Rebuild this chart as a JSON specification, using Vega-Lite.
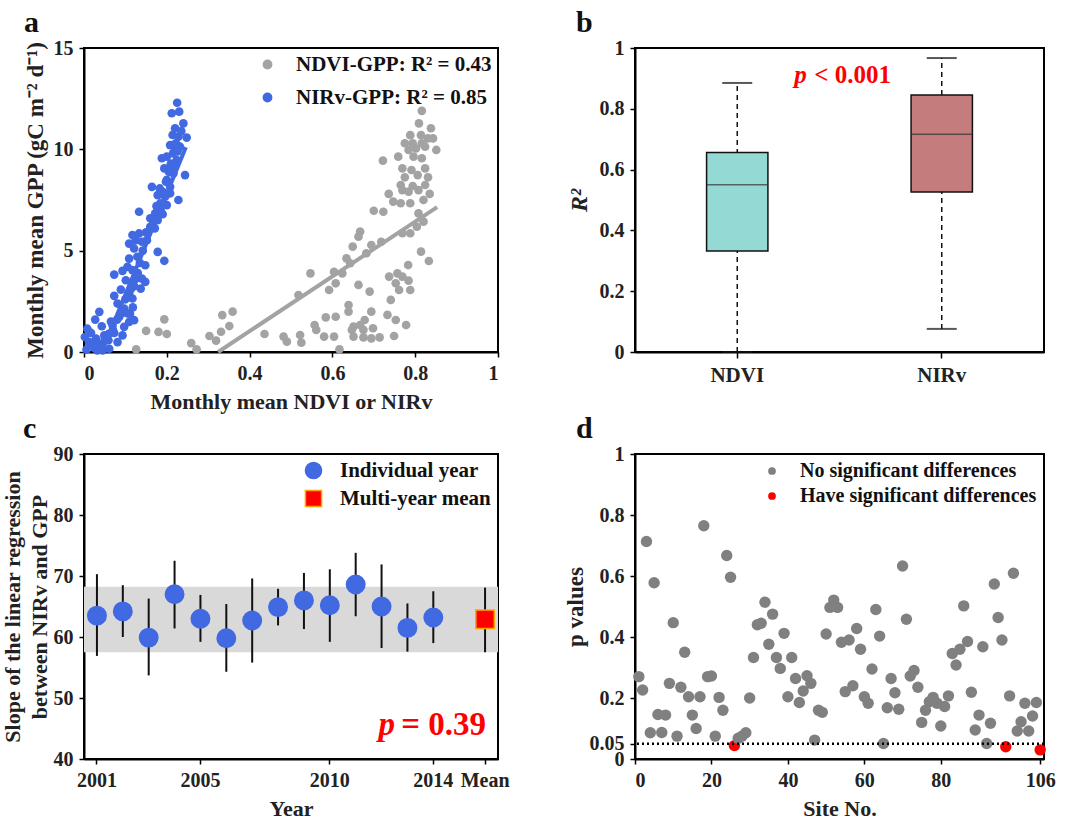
{
"$schema": "https://vega.github.io/schema/vega-lite/v6.json",
"background": "white",
"padding": {"left": 0, "top": 7, "right": 5, "bottom": 5},
"config": {
 "font": "Liberation Serif",
 "view": {"stroke": "#000", "strokeWidth": 2},
 "axis": {"grid": false, "labelFont": "Liberation Serif", "labelFontSize": 20, "labelFontWeight": "bold", "labelColor": "#222", "titleFont": "Liberation Serif", "titleFontSize": 22, "titleFontWeight": "bold", "titleColor": "#222", "domainColor": "#000", "domainWidth": 2, "tickColor": "#000", "tickWidth": 1.5, "tickSize": 5, "labelPadding": 6, "titlePadding": 8, "labelOverlap": false, "labelBound": false},
 "legend": {"labelFont": "Liberation Serif", "labelFontWeight": "bold", "labelColor": "#111", "padding": 0, "labelLimit": 400},
 "title": {"font": "Liberation Serif", "fontSize": 30, "fontWeight": "bold", "anchor": "start", "frame": "group", "color": "#111", "dy": 4}
},
"datasets": {
 "scatterA": [
  {"index":"NDVI","vi":0.126,"gpp":0.13},{"index":"NDVI","vi":0.150,"gpp":1.04},{"index":"NDVI","vi":0.180,"gpp":0.99},{"index":"NDVI","vi":0.194,"gpp":1.61},{"index":"NDVI","vi":0.200,"gpp":0.89},{"index":"NDVI","vi":0.259,"gpp":0.44},{"index":"NDVI","vi":0.272,"gpp":0.13},{"index":"NDVI","vi":0.303,"gpp":0.79},{"index":"NDVI","vi":0.319,"gpp":0.56},{"index":"NDVI","vi":0.331,"gpp":1.0},{"index":"NDVI","vi":0.334,"gpp":1.82},{"index":"NDVI","vi":0.351,"gpp":1.28},{"index":"NDVI","vi":0.359,"gpp":1.99},{"index":"NDVI","vi":0.436,"gpp":0.89},
  {"index":"NDVI","vi":0.816,"gpp":11.9},{"index":"NDVI","vi":0.809,"gpp":11.28},{"index":"NDVI","vi":0.838,"gpp":11.04},{"index":"NDVI","vi":0.788,"gpp":10.7},{"index":"NDVI","vi":0.814,"gpp":10.7},{"index":"NDVI","vi":0.831,"gpp":10.54},{"index":"NDVI","vi":0.775,"gpp":10.3},{"index":"NDVI","vi":0.794,"gpp":10.3},{"index":"NDVI","vi":0.816,"gpp":10.3},{"index":"NDVI","vi":0.843,"gpp":10.54},{"index":"NDVI","vi":0.784,"gpp":9.97},{"index":"NDVI","vi":0.802,"gpp":10.05},{"index":"NDVI","vi":0.824,"gpp":10.13},{"index":"NDVI","vi":0.851,"gpp":9.97},{"index":"NDVI","vi":0.759,"gpp":9.64},{"index":"NDVI","vi":0.796,"gpp":9.64},{"index":"NDVI","vi":0.722,"gpp":9.44},{"index":"NDVI","vi":0.816,"gpp":9.56},{"index":"NDVI","vi":0.769,"gpp":9.06},{"index":"NDVI","vi":0.791,"gpp":8.98},{"index":"NDVI","vi":0.824,"gpp":9.06},{"index":"NDVI","vi":0.775,"gpp":8.62},{"index":"NDVI","vi":0.806,"gpp":8.73},{"index":"NDVI","vi":0.831,"gpp":8.62},{"index":"NDVI","vi":0.765,"gpp":8.24},{"index":"NDVI","vi":0.794,"gpp":8.19},{"index":"NDVI","vi":0.824,"gpp":8.24},{"index":"NDVI","vi":0.769,"gpp":7.99},{"index":"NDVI","vi":0.784,"gpp":7.91},{"index":"NDVI","vi":0.808,"gpp":7.99},{"index":"NDVI","vi":0.835,"gpp":7.80},{"index":"NDVI","vi":0.736,"gpp":7.80},{"index":"NDVI","vi":0.747,"gpp":7.42},{"index":"NDVI","vi":0.765,"gpp":7.34},{"index":"NDVI","vi":0.788,"gpp":7.34},{"index":"NDVI","vi":0.820,"gpp":7.50},{"index":"NDVI","vi":0.700,"gpp":6.97},{"index":"NDVI","vi":0.723,"gpp":6.92},{"index":"NDVI","vi":0.808,"gpp":6.84},{"index":"NDVI","vi":0.820,"gpp":6.43},{"index":"NDVI","vi":0.804,"gpp":6.18},{"index":"NDVI","vi":0.788,"gpp":5.86},{"index":"NDVI","vi":0.769,"gpp":5.86},{"index":"NDVI","vi":0.667,"gpp":5.94},{"index":"NDVI","vi":0.663,"gpp":5.69},{"index":"NDVI","vi":0.694,"gpp":5.28},{"index":"NDVI","vi":0.718,"gpp":5.44},{"index":"NDVI","vi":0.649,"gpp":5.20},{"index":"NDVI","vi":0.634,"gpp":4.62},{"index":"NDVI","vi":0.643,"gpp":4.38},{"index":"NDVI","vi":0.682,"gpp":4.87},{"index":"NDVI","vi":0.814,"gpp":4.95},{"index":"NDVI","vi":0.833,"gpp":4.49},{"index":"NDVI","vi":0.783,"gpp":4.29},{"index":"NDVI","vi":0.757,"gpp":3.88},{"index":"NDVI","vi":0.737,"gpp":3.72},{"index":"NDVI","vi":0.769,"gpp":3.72},{"index":"NDVI","vi":0.784,"gpp":3.52},{"index":"NDVI","vi":0.753,"gpp":3.39},{"index":"NDVI","vi":0.761,"gpp":3.06},{"index":"NDVI","vi":0.788,"gpp":3.06},{"index":"NDVI","vi":0.741,"gpp":2.57},{"index":"NDVI","vi":0.690,"gpp":2.98},{"index":"NDVI","vi":0.663,"gpp":3.31},{"index":"NDVI","vi":0.624,"gpp":3.88},{"index":"NDVI","vi":0.604,"gpp":3.96},{"index":"NDVI","vi":0.592,"gpp":3.06},{"index":"NDVI","vi":0.608,"gpp":3.39},{"index":"NDVI","vi":0.547,"gpp":3.88},{"index":"NDVI","vi":0.518,"gpp":2.81},{"index":"NDVI","vi":0.639,"gpp":2.32},{"index":"NDVI","vi":0.639,"gpp":1.99},{"index":"NDVI","vi":0.608,"gpp":1.74},{"index":"NDVI","vi":0.584,"gpp":1.71},{"index":"NDVI","vi":0.694,"gpp":1.99},{"index":"NDVI","vi":0.733,"gpp":1.83},{"index":"NDVI","vi":0.753,"gpp":1.58},{"index":"NDVI","vi":0.778,"gpp":1.33},{"index":"NDVI","vi":0.678,"gpp":1.58},{"index":"NDVI","vi":0.667,"gpp":1.33},{"index":"NDVI","vi":0.651,"gpp":1.25},{"index":"NDVI","vi":0.647,"gpp":1.09},{"index":"NDVI","vi":0.675,"gpp":1.09},{"index":"NDVI","vi":0.698,"gpp":1.17},{"index":"NDVI","vi":0.557,"gpp":1.33},{"index":"NDVI","vi":0.561,"gpp":1.09},{"index":"NDVI","vi":0.580,"gpp":0.76},{"index":"NDVI","vi":0.604,"gpp":0.76},{"index":"NDVI","vi":0.651,"gpp":0.76},{"index":"NDVI","vi":0.675,"gpp":0.72},{"index":"NDVI","vi":0.694,"gpp":0.67},{"index":"NDVI","vi":0.714,"gpp":0.72},{"index":"NDVI","vi":0.749,"gpp":0.79},{"index":"NDVI","vi":0.522,"gpp":0.84},{"index":"NDVI","vi":0.482,"gpp":0.76},{"index":"NDVI","vi":0.490,"gpp":0.51},{"index":"NDVI","vi":0.525,"gpp":0.46},{"index":"NDVI","vi":0.617,"gpp":0.13},
  {"index":"NIRv","vi":0.225,"gpp":12.3},{"index":"NIRv","vi":0.212,"gpp":11.78},{"index":"NIRv","vi":0.230,"gpp":11.86},{"index":"NIRv","vi":0.240,"gpp":11.28},{"index":"NIRv","vi":0.220,"gpp":11.04},{"index":"NIRv","vi":0.214,"gpp":10.71},{"index":"NIRv","vi":0.248,"gpp":10.58},{"index":"NIRv","vi":0.228,"gpp":10.63},{"index":"NIRv","vi":0.208,"gpp":10.21},{"index":"NIRv","vi":0.232,"gpp":10.13},{"index":"NIRv","vi":0.220,"gpp":9.97},{"index":"NIRv","vi":0.188,"gpp":9.56},{"index":"NIRv","vi":0.200,"gpp":9.64},{"index":"NIRv","vi":0.224,"gpp":9.47},{"index":"NIRv","vi":0.208,"gpp":9.14},{"index":"NIRv","vi":0.244,"gpp":8.73},{"index":"NIRv","vi":0.194,"gpp":9.06},{"index":"NIRv","vi":0.216,"gpp":8.81},{"index":"NIRv","vi":0.164,"gpp":8.15},{"index":"NIRv","vi":0.183,"gpp":8.07},{"index":"NIRv","vi":0.208,"gpp":8.15},{"index":"NIRv","vi":0.178,"gpp":7.74},{"index":"NIRv","vi":0.196,"gpp":7.66},{"index":"NIRv","vi":0.208,"gpp":7.83},{"index":"NIRv","vi":0.228,"gpp":7.50},{"index":"NIRv","vi":0.184,"gpp":7.33},{"index":"NIRv","vi":0.200,"gpp":7.25},{"index":"NIRv","vi":0.133,"gpp":6.92},{"index":"NIRv","vi":0.172,"gpp":6.84},{"index":"NIRv","vi":0.190,"gpp":6.80},{"index":"NIRv","vi":0.168,"gpp":6.43},{"index":"NIRv","vi":0.178,"gpp":6.51},{"index":"NIRv","vi":0.160,"gpp":6.18},{"index":"NIRv","vi":0.117,"gpp":5.77},{"index":"NIRv","vi":0.133,"gpp":5.85},{"index":"NIRv","vi":0.125,"gpp":5.52},{"index":"NIRv","vi":0.152,"gpp":5.52},{"index":"NIRv","vi":0.109,"gpp":5.35},{"index":"NIRv","vi":0.140,"gpp":5.44},{"index":"NIRv","vi":0.121,"gpp":5.11},{"index":"NIRv","vi":0.178,"gpp":4.94},{"index":"NIRv","vi":0.109,"gpp":4.61},{"index":"NIRv","vi":0.129,"gpp":4.70},{"index":"NIRv","vi":0.194,"gpp":4.50},{"index":"NIRv","vi":0.105,"gpp":4.20},{"index":"NIRv","vi":0.148,"gpp":4.28},{"index":"NIRv","vi":0.117,"gpp":4.04},{"index":"NIRv","vi":0.129,"gpp":3.87},{"index":"NIRv","vi":0.073,"gpp":3.82},{"index":"NIRv","vi":0.093,"gpp":4.00},{"index":"NIRv","vi":0.140,"gpp":3.62},{"index":"NIRv","vi":0.148,"gpp":3.46},{"index":"NIRv","vi":0.101,"gpp":3.54},{"index":"NIRv","vi":0.121,"gpp":3.25},{"index":"NIRv","vi":0.089,"gpp":3.08},{"index":"NIRv","vi":0.073,"gpp":2.77},{"index":"NIRv","vi":0.109,"gpp":2.88},{"index":"NIRv","vi":0.137,"gpp":3.13},{"index":"NIRv","vi":0.117,"gpp":2.64},{"index":"NIRv","vi":0.081,"gpp":2.39},{"index":"NIRv","vi":0.097,"gpp":2.14},{"index":"NIRv","vi":0.111,"gpp":1.89},{"index":"NIRv","vi":0.085,"gpp":1.73},{"index":"NIRv","vi":0.121,"gpp":1.57},{"index":"NIRv","vi":0.037,"gpp":1.98},{"index":"NIRv","vi":0.027,"gpp":1.60},{"index":"NIRv","vi":0.043,"gpp":1.27},{"index":"NIRv","vi":0.008,"gpp":1.15},{"index":"NIRv","vi":0.017,"gpp":0.94},{"index":"NIRv","vi":0.069,"gpp":1.32},{"index":"NIRv","vi":0.097,"gpp":1.24},{"index":"NIRv","vi":0.109,"gpp":1.48},{"index":"NIRv","vi":0.073,"gpp":0.94},{"index":"NIRv","vi":0.049,"gpp":0.82},{"index":"NIRv","vi":0.093,"gpp":0.82},{"index":"NIRv","vi":0.029,"gpp":0.66},{"index":"NIRv","vi":0.002,"gpp":0.74},{"index":"NIRv","vi":0.059,"gpp":0.58},{"index":"NIRv","vi":0.081,"gpp":0.49},{"index":"NIRv","vi":0.017,"gpp":0.41},{"index":"NIRv","vi":0.040,"gpp":0.33},{"index":"NIRv","vi":0.006,"gpp":0.12},{"index":"NIRv","vi":0.032,"gpp":0.08},{"index":"NIRv","vi":0.061,"gpp":0.16},{"index":"NIRv","vi":0.045,"gpp":0.08},
  {"index":"NIRv","vi":0.200,"gpp":8.5},{"index":"NIRv","vi":0.210,"gpp":9.3},{"index":"NIRv","vi":0.215,"gpp":9.8},{"index":"NIRv","vi":0.222,"gpp":10.3},{"index":"NIRv","vi":0.205,"gpp":8.9},{"index":"NIRv","vi":0.190,"gpp":7.9},{"index":"NIRv","vi":0.175,"gpp":7.2},{"index":"NIRv","vi":0.160,"gpp":6.6},{"index":"NIRv","vi":0.150,"gpp":5.9},{"index":"NIRv","vi":0.142,"gpp":5.0},{"index":"NIRv","vi":0.135,"gpp":4.4},{"index":"NIRv","vi":0.125,"gpp":3.6},{"index":"NIRv","vi":0.113,"gpp":3.1},{"index":"NIRv","vi":0.100,"gpp":2.6},{"index":"NIRv","vi":0.090,"gpp":1.9},{"index":"NIRv","vi":0.080,"gpp":1.6},{"index":"NIRv","vi":0.070,"gpp":1.1},{"index":"NIRv","vi":0.060,"gpp":0.9},{"index":"NIRv","vi":0.050,"gpp":0.6},{"index":"NIRv","vi":0.035,"gpp":0.4},{"index":"NIRv","vi":0.025,"gpp":0.2},{"index":"NIRv","vi":0.012,"gpp":0.5},{"index":"NIRv","vi":0.218,"gpp":9.2},{"index":"NIRv","vi":0.226,"gpp":9.9},{"index":"NIRv","vi":0.235,"gpp":10.9},{"index":"NIRv","vi":0.198,"gpp":8.4},{"index":"NIRv","vi":0.185,"gpp":7.0},{"index":"NIRv","vi":0.171,"gpp":6.1},{"index":"NIRv","vi":0.130,"gpp":3.9},{"index":"NIRv","vi":0.118,"gpp":2.2},{"index":"NIRv","vi":0.105,"gpp":1.9},{"index":"NIRv","vi":0.065,"gpp":1.5}
 ],
 "linesA": [
  {"index":"NDVI","vi":0.324,"gpp":0},{"index":"NDVI","vi":0.853,"gpp":7.15},
  {"index":"NIRv","vi":0.045,"gpp":0.1},{"index":"NIRv","vi":0.246,"gpp":10.1}
 ],
 "boxB": [
  {"index":"NDVI","lower":0.0,"q1":0.332,"median":0.55,"q3":0.656,"upper":0.885},
  {"index":"NIRv","lower":0.076,"q1":0.526,"median":0.716,"q3":0.845,"upper":0.967}
 ],
 "bandC": [{"lo":57.5,"hi":68.25}],
 "slopeC": [
  {"year":"2001","kind":"Individual year","slope":63.5,"lo":56.9,"hi":70.3},
  {"year":"2002","kind":"Individual year","slope":64.2,"lo":60.0,"hi":68.5},
  {"year":"2003","kind":"Individual year","slope":59.9,"lo":53.7,"hi":66.3},
  {"year":"2004","kind":"Individual year","slope":67.0,"lo":61.4,"hi":72.5},
  {"year":"2005","kind":"Individual year","slope":63.0,"lo":59.2,"hi":66.9},
  {"year":"2006","kind":"Individual year","slope":59.8,"lo":54.3,"hi":65.4},
  {"year":"2007","kind":"Individual year","slope":62.7,"lo":55.8,"hi":69.6},
  {"year":"2008","kind":"Individual year","slope":64.9,"lo":61.9,"hi":67.9},
  {"year":"2009","kind":"Individual year","slope":66.0,"lo":61.3,"hi":70.5},
  {"year":"2010","kind":"Individual year","slope":65.2,"lo":59.2,"hi":71.1},
  {"year":"2011","kind":"Individual year","slope":68.6,"lo":63.4,"hi":73.8},
  {"year":"2012","kind":"Individual year","slope":65.0,"lo":58.2,"hi":71.9},
  {"year":"2013","kind":"Individual year","slope":61.5,"lo":57.6,"hi":65.5},
  {"year":"2014","kind":"Individual year","slope":63.2,"lo":59.0,"hi":67.5},
  {"year":"Mean","kind":"Multi-year mean","slope":62.9,"lo":57.5,"hi":68.1}
 ],
 "threshD": [{"p":0.05}],
 "pvalD": [
  {"site":1,"p":0.27,"sig":"No significant differences"},{"site":2,"p":0.226,"sig":"No significant differences"},{"site":3,"p":0.713,"sig":"No significant differences"},{"site":4,"p":0.086,"sig":"No significant differences"},{"site":5,"p":0.578,"sig":"No significant differences"},{"site":6,"p":0.146,"sig":"No significant differences"},{"site":7,"p":0.087,"sig":"No significant differences"},{"site":8,"p":0.144,"sig":"No significant differences"},{"site":9,"p":0.248,"sig":"No significant differences"},{"site":10,"p":0.447,"sig":"No significant differences"},
  {"site":11,"p":0.075,"sig":"No significant differences"},{"site":12,"p":0.235,"sig":"No significant differences"},{"site":13,"p":0.35,"sig":"No significant differences"},{"site":14,"p":0.204,"sig":"No significant differences"},{"site":15,"p":0.144,"sig":"No significant differences"},{"site":16,"p":0.1,"sig":"No significant differences"},{"site":17,"p":0.204,"sig":"No significant differences"},{"site":18,"p":0.765,"sig":"No significant differences"},{"site":19,"p":0.27,"sig":"No significant differences"},{"site":20,"p":0.272,"sig":"No significant differences"},
  {"site":21,"p":0.075,"sig":"No significant differences"},{"site":22,"p":0.202,"sig":"No significant differences"},{"site":23,"p":0.16,"sig":"No significant differences"},{"site":24,"p":0.667,"sig":"No significant differences"},{"site":25,"p":0.596,"sig":"No significant differences"},{"site":26,"p":0.044,"sig":"Have significant differences"},{"site":27,"p":0.068,"sig":"No significant differences"},{"site":28,"p":0.075,"sig":"No significant differences"},{"site":29,"p":0.086,"sig":"No significant differences"},{"site":30,"p":0.2,"sig":"No significant differences"},
  {"site":31,"p":0.333,"sig":"No significant differences"},{"site":32,"p":0.44,"sig":"No significant differences"},{"site":33,"p":0.445,"sig":"No significant differences"},{"site":34,"p":0.514,"sig":"No significant differences"},{"site":35,"p":0.376,"sig":"No significant differences"},{"site":36,"p":0.475,"sig":"No significant differences"},{"site":37,"p":0.333,"sig":"No significant differences"},{"site":38,"p":0.297,"sig":"No significant differences"},{"site":39,"p":0.412,"sig":"No significant differences"},{"site":40,"p":0.204,"sig":"No significant differences"},
  {"site":41,"p":0.333,"sig":"No significant differences"},{"site":42,"p":0.264,"sig":"No significant differences"},{"site":43,"p":0.185,"sig":"No significant differences"},{"site":44,"p":0.223,"sig":"No significant differences"},{"site":45,"p":0.273,"sig":"No significant differences"},{"site":46,"p":0.248,"sig":"No significant differences"},{"site":47,"p":0.062,"sig":"No significant differences"},{"site":48,"p":0.16,"sig":"No significant differences"},{"site":49,"p":0.153,"sig":"No significant differences"},{"site":50,"p":0.41,"sig":"No significant differences"},
  {"site":51,"p":0.497,"sig":"No significant differences"},{"site":52,"p":0.521,"sig":"No significant differences"},{"site":53,"p":0.497,"sig":"No significant differences"},{"site":54,"p":0.383,"sig":"No significant differences"},{"site":55,"p":0.221,"sig":"No significant differences"},{"site":56,"p":0.39,"sig":"No significant differences"},{"site":57,"p":0.24,"sig":"No significant differences"},{"site":58,"p":0.428,"sig":"No significant differences"},{"site":59,"p":0.36,"sig":"No significant differences"},{"site":60,"p":0.204,"sig":"No significant differences"},
  {"site":61,"p":0.183,"sig":"No significant differences"},{"site":62,"p":0.295,"sig":"No significant differences"},{"site":63,"p":0.49,"sig":"No significant differences"},{"site":64,"p":0.403,"sig":"No significant differences"},{"site":65,"p":0.051,"sig":"No significant differences"},{"site":66,"p":0.168,"sig":"No significant differences"},{"site":67,"p":0.264,"sig":"No significant differences"},{"site":68,"p":0.217,"sig":"No significant differences"},{"site":69,"p":0.163,"sig":"No significant differences"},{"site":70,"p":0.633,"sig":"No significant differences"},
  {"site":71,"p":0.458,"sig":"No significant differences"},{"site":72,"p":0.272,"sig":"No significant differences"},{"site":73,"p":0.29,"sig":"No significant differences"},{"site":74,"p":0.235,"sig":"No significant differences"},{"site":75,"p":0.12,"sig":"No significant differences"},{"site":76,"p":0.16,"sig":"No significant differences"},{"site":77,"p":0.188,"sig":"No significant differences"},{"site":78,"p":0.202,"sig":"No significant differences"},{"site":79,"p":0.183,"sig":"No significant differences"},{"site":80,"p":0.108,"sig":"No significant differences"},
  {"site":81,"p":0.172,"sig":"No significant differences"},{"site":82,"p":0.207,"sig":"No significant differences"},{"site":83,"p":0.346,"sig":"No significant differences"},{"site":84,"p":0.308,"sig":"No significant differences"},{"site":85,"p":0.36,"sig":"No significant differences"},{"site":86,"p":0.502,"sig":"No significant differences"},{"site":87,"p":0.385,"sig":"No significant differences"},{"site":88,"p":0.219,"sig":"No significant differences"},{"site":89,"p":0.095,"sig":"No significant differences"},{"site":90,"p":0.144,"sig":"No significant differences"},
  {"site":91,"p":0.368,"sig":"No significant differences"},{"site":92,"p":0.051,"sig":"No significant differences"},{"site":93,"p":0.117,"sig":"No significant differences"},{"site":94,"p":0.574,"sig":"No significant differences"},{"site":95,"p":0.464,"sig":"No significant differences"},{"site":96,"p":0.39,"sig":"No significant differences"},{"site":97,"p":0.04,"sig":"Have significant differences"},{"site":98,"p":0.207,"sig":"No significant differences"},{"site":99,"p":0.609,"sig":"No significant differences"},{"site":100,"p":0.092,"sig":"No significant differences"},
  {"site":101,"p":0.122,"sig":"No significant differences"},{"site":102,"p":0.183,"sig":"No significant differences"},{"site":103,"p":0.092,"sig":"No significant differences"},{"site":104,"p":0.141,"sig":"No significant differences"},{"site":105,"p":0.185,"sig":"No significant differences"},{"site":106,"p":0.03,"sig":"Have significant differences"}
 ]
},
"resolve": {
 "scale": {"x": "independent", "y": "independent", "color": "independent", "fill": "independent", "stroke": "independent", "shape": "independent"},
 "legend": {"color": "independent", "fill": "independent", "stroke": "independent", "shape": "independent"}
},
"bounds": "flush",
"columns": 2,
"spacing": {"row": 102, "column": 137},
"concat": [
  {"title": {"text": "a", "dx": -60},
   "width": 414, "height": 304,
   "layer": [
    {"data": {"name": "scatterA"},
     "mark": {"type": "point", "filled": true, "size": 75, "opacity": 1},
     "encoding": {
      "x": {"field": "vi", "type": "quantitative", "scale": {"domain": [0, 1], "nice": false}, "axis": {"values": [0, 0.2, 0.4, 0.6, 0.8, 1], "format": "~g", "title": "Monthly mean NDVI or NIRv"}},
      "y": {"field": "gpp", "type": "quantitative", "scale": {"domain": [0, 15], "nice": false}, "axis": {"values": [0, 5, 10, 15], "title": "Monthly mean GPP (gC m⁻² d⁻¹)", "titleFontSize": 23, "titlePadding": 6}},
      "color": {"field": "index", "type": "nominal", "scale": {"domain": ["NDVI", "NIRv"], "range": ["#A3A3A3", "#4169E1"]},
       "legend": {"title": null, "orient": "top-right", "offset": 6, "labelFontSize": 21, "symbolSize": 70, "symbolType": "circle", "rowPadding": 11, "labelOffset": 18,
        "labelExpr": "datum.label == 'NDVI' ? 'NDVI-GPP: R² = 0.43' : 'NIRv-GPP: R² = 0.85'"}}
     }},
    {"data": {"name": "linesA"},
     "mark": {"type": "line", "strokeWidth": 4},
     "encoding": {
      "x": {"field": "vi", "type": "quantitative"},
      "y": {"field": "gpp", "type": "quantitative"},
      "stroke": {"field": "index", "type": "nominal", "scale": {"domain": ["NDVI", "NIRv"], "range": ["#A3A3A3", "#4169E1"]}, "legend": null}
     }}
   ]},
  {"title": {"text": "b", "dx": -59},
   "width": 409, "height": 304,
   "data": {"name": "boxB"},
   "encoding": {"x": {"field": "index", "type": "nominal", "scale": {"domain": ["NDVI", "NIRv"], "paddingInner": 0, "paddingOuter": 0}, "axis": {"labelAngle": 0, "title": null, "labelFontSize": 21, "tickSize": 6}}},
   "layer": [
    {"mark": {"type": "rule", "strokeDash": [5, 4], "strokeWidth": 1.5, "color": "#111"},
     "encoding": {"y": {"field": "lower", "type": "quantitative", "scale": {"domain": [0, 1], "nice": false}, "axis": {"values": [0, 0.2, 0.4, 0.6, 0.8, 1], "format": "~g", "title": "R²", "titleFontStyle": "italic", "titleFontSize": 24}}, "y2": {"field": "upper"}}},
    {"mark": {"type": "bar", "stroke": "#111", "strokeWidth": 1.5, "width": {"band": 0.3}},
     "encoding": {"y": {"field": "q1", "type": "quantitative"}, "y2": {"field": "q3"}, "fill": {"field": "index", "type": "nominal", "scale": {"domain": ["NDVI", "NIRv"], "range": ["#94D9D4", "#C47C7C"]}, "legend": null}}},
    {"mark": {"type": "tick", "thickness": 1.5, "size": 61, "color": "#333"},
     "encoding": {"y": {"field": "median", "type": "quantitative"}}},
    {"mark": {"type": "tick", "thickness": 2, "size": 30, "color": "#111"},
     "encoding": {"y": {"field": "upper", "type": "quantitative"}}},
    {"mark": {"type": "tick", "thickness": 2, "size": 30, "color": "#111"},
     "encoding": {"y": {"field": "lower", "type": "quantitative"}}},
    {"data": {"values": [{"t": "p"}]},
     "mark": {"type": "text", "align": "left", "baseline": "alphabetic", "fontSize": 25, "fontWeight": "bold", "fontStyle": "italic", "color": "#FF0000", "dx": 57},
     "encoding": {"x": {"datum": "NDVI"}, "y": {"datum": 0.885}, "text": {"field": "t"}}},
    {"data": {"values": [{"t": "< 0.001"}]},
     "mark": {"type": "text", "align": "left", "baseline": "alphabetic", "fontSize": 25, "fontWeight": "bold", "color": "#FF0000", "dx": 77},
     "encoding": {"x": {"datum": "NDVI"}, "y": {"datum": 0.885}, "text": {"field": "t"}}}
   ]},
  {"title": {"text": "c", "dx": -61},
   "width": 414, "height": 305,
   "layer": [
    {"data": {"name": "bandC"},
     "mark": {"type": "rect", "color": "#D9D9D9"},
     "encoding": {"y": {"field": "lo", "type": "quantitative", "scale": {"domain": [40, 90], "nice": false}, "axis": {"values": [40, 50, 60, 70, 80, 90], "title": ["Slope of the linear regression", "between NIRv and GPP"], "titleLineHeight": 27, "titleFontSize": 22, "titlePadding": 2}}, "y2": {"field": "hi"}}},
    {"data": {"name": "slopeC"},
     "mark": {"type": "rule", "strokeWidth": 2, "color": "#111"},
     "encoding": {
      "x": {"field": "year", "type": "ordinal", "scale": {"domain": ["2001","2002","2003","2004","2005","2006","2007","2008","2009","2010","2011","2012","2013","2014","2015","Mean"], "paddingInner": 0, "paddingOuter": 0}, "axis": {"values": ["2001","2005","2010","2014","Mean"], "labelAngle": 0, "title": "Year"}},
      "y": {"field": "lo", "type": "quantitative"}, "y2": {"field": "hi"}}},
    {"data": {"name": "slopeC"},
     "mark": {"type": "point", "filled": true, "opacity": 1, "size": 340, "strokeWidth": 1.5},
     "encoding": {
      "x": {"field": "year", "type": "ordinal"},
      "y": {"field": "slope", "type": "quantitative"},
      "fill": {"field": "kind", "type": "nominal", "scale": {"domain": ["Individual year", "Multi-year mean"], "range": ["#4169E1", "#FF0000"]}, "legend": {"title": null, "orient": "top-right", "offset": 6, "labelFontSize": 21, "symbolSize": 260, "rowPadding": 5, "labelOffset": 16}},
      "shape": {"field": "kind", "type": "nominal", "scale": {"domain": ["Individual year", "Multi-year mean"], "range": ["circle", "square"]}, "legend": {"title": null, "orient": "top-right", "offset": 6, "labelFontSize": 21, "symbolSize": 260, "rowPadding": 5, "labelOffset": 16}},
      "stroke": {"field": "kind", "type": "nominal", "scale": {"domain": ["Individual year", "Multi-year mean"], "range": ["#4169E1", "#FFA500"]}, "legend": {"title": null, "orient": "top-right", "offset": 6, "labelFontSize": 21, "symbolSize": 260, "rowPadding": 5, "labelOffset": 16}}
     }},
    {"data": {"values": [{"t": "p"}]},
     "mark": {"type": "text", "align": "right", "baseline": "alphabetic", "fontSize": 33, "fontWeight": "bold", "fontStyle": "italic", "color": "#FF0000", "dx": -90},
     "encoding": {"x": {"datum": "Mean"}, "y": {"datum": 43.9}, "text": {"field": "t"}}},
    {"data": {"values": [{"t": "= 0.39"}]},
     "mark": {"type": "text", "align": "right", "baseline": "alphabetic", "fontSize": 33, "fontWeight": "bold", "color": "#FF0000", "dx": 1},
     "encoding": {"x": {"datum": "Mean"}, "y": {"datum": 43.9}, "text": {"field": "t"}}}
   ]},
  {"title": {"text": "d", "dx": -59},
   "width": 409, "height": 305,
   "layer": [
    {"data": {"name": "pvalD"},
     "mark": {"type": "point", "filled": true, "opacity": 1, "size": 130},
     "encoding": {
      "x": {"field": "site", "type": "quantitative", "scale": {"domain": [0, 107], "nice": false}, "axis": {"values": [0, 20, 40, 60, 80, 106], "title": "Site No."}},
      "y": {"field": "p", "type": "quantitative", "scale": {"domain": [0, 1], "nice": false}, "axis": {"values": [0, 0.05, 0.2, 0.4, 0.6, 0.8, 1], "format": "~g", "title": "p values", "titleFontSize": 23, "titlePadding": 2}},
      "color": {"field": "sig", "type": "nominal", "scale": {"domain": ["No significant differences", "Have significant differences"], "range": ["#808080", "#FF0000"]},
       "legend": {"title": null, "orient": "top-right", "offset": 7, "labelFontSize": 20, "symbolSize": 60, "symbolType": "circle", "rowPadding": 5, "labelOffset": 18}}
     }},
    {"data": {"name": "threshD"},
     "mark": {"type": "rule", "strokeDash": [2, 3], "strokeWidth": 2.5, "color": "#000"},
     "encoding": {"y": {"field": "p", "type": "quantitative"}}}
   ]}
]
}
